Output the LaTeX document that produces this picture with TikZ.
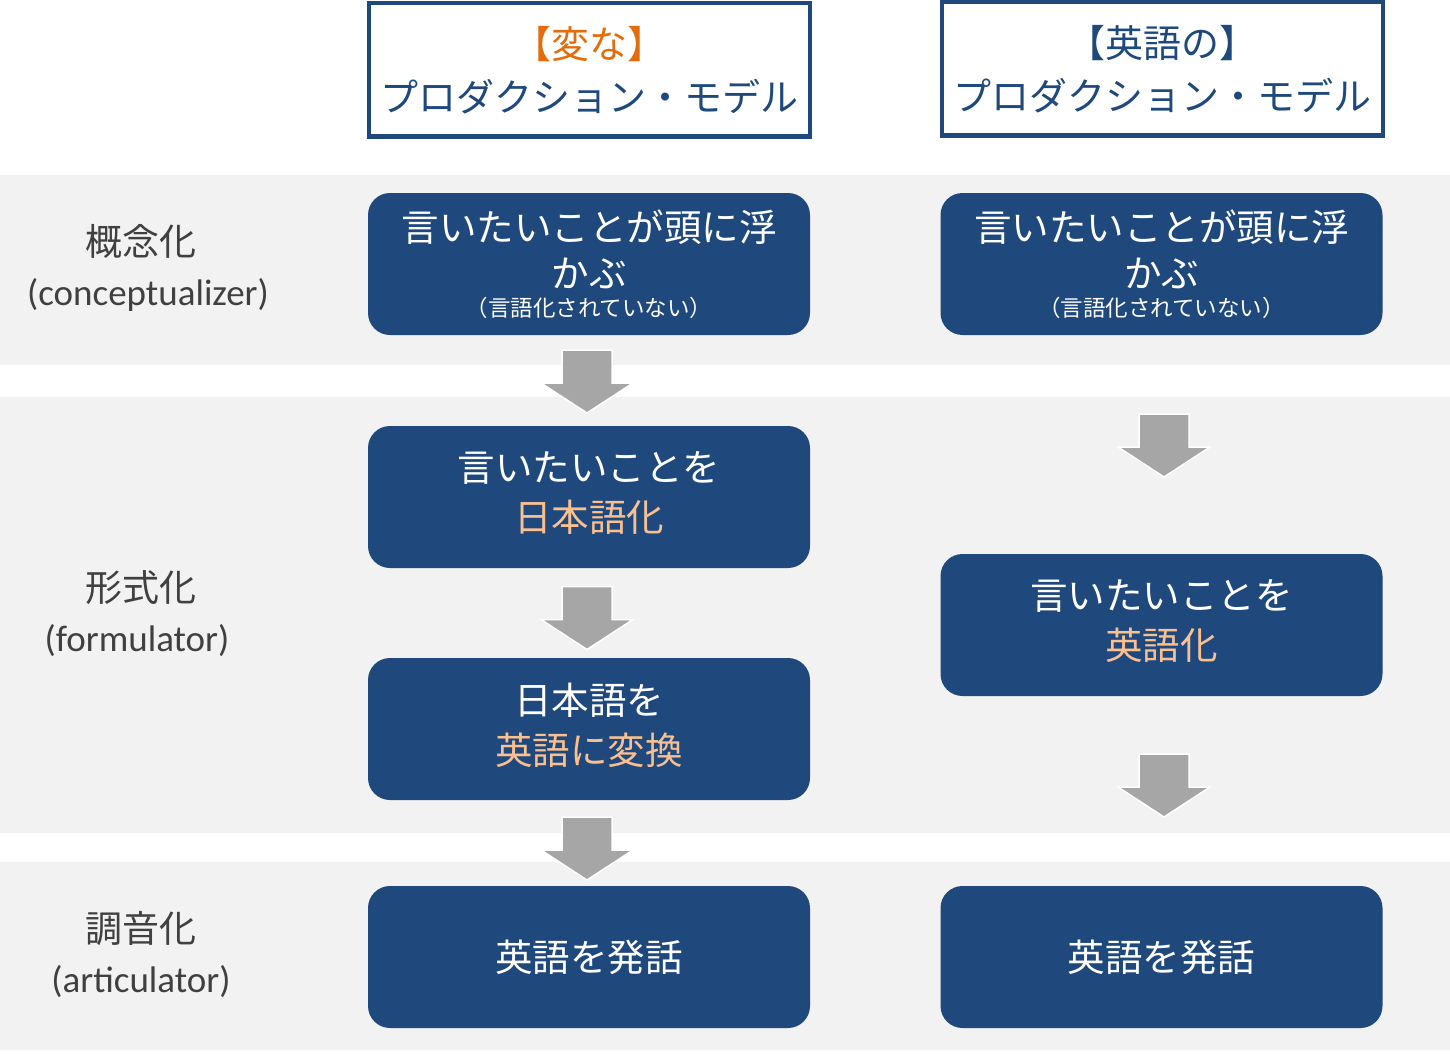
\documentclass[tikz,border=0pt]{standalone}
\usepackage{fontspec}
\newfontfamily\jp{Noto Sans CJK JP}
\newfontfamily\lat{Carlito}
\usetikzlibrary{calc}
\definecolor{navy}{HTML}{1F497D}
\definecolor{bandgray}{HTML}{F2F2F2}
\definecolor{arrowgray}{HTML}{A6A6A6}
\definecolor{hdorange}{HTML}{E46C0A}
\definecolor{lightorange}{HTML}{FAC090}
\definecolor{labelgray}{HTML}{404040}
\newcommand\lift{\rule[-11pt]{0pt}{11pt}}
\begin{document}
\begin{tikzpicture}[x=1pt,y=-1pt,
  band/.style={fill=bandgray,draw=none},
  stepbox/.style={fill=navy,draw=none,rounded corners=22pt,minimum width=442pt,minimum height=142pt,
    text=white,align=center,inner sep=0pt,font=\jp\fontsize{37.5}{50}\selectfont},
  headbox/.style={draw=navy,line width=4pt,fill=white,minimum width=441pt,minimum height=133pt,
    text=navy,align=center,inner sep=0pt,font=\jp\fontsize{38}{53}\selectfont},
  stagelabel/.style={text=labelgray,align=center,inner sep=0pt,font=\lat\fontsize{37}{50}\selectfont},
  downarrow/.pic={\fill[arrowgray,draw=white,line width=1.5pt]
    (-25,-31.5) -- (25,-31.5) -- (25,1.5) -- (46,1.5) -- (0,31.5) -- (-46,1.5) -- (-25,1.5) -- cycle;}
]
\useasboundingbox (0,0) rectangle (1450,1054);
\fill[white] (0,0) rectangle (1450,1054);
% bands
\fill[band] (0,175) rectangle (1450,365);
\fill[band] (0,397) rectangle (1450,833);
\fill[band] (0,862) rectangle (1450,1050);

% headers
\node[headbox] (h1) at (589.5,70) {{\color{hdorange}【変な】}\\プロダクション・モデル};
\node[headbox,yshift=1pt] (h2) at (1162,70) {【英語の】\\プロダクション・モデル};

% stage labels
\node[stagelabel] (s1) at (141,268) {{\jp 概念化}\\\hspace*{14pt}(conceptualizer)};
\node[stagelabel] (s2) at (141,614) {{\jp 形式化}\\(formulator)\hspace*{8pt}};
\node[stagelabel] (s3) at (141,955) {{\jp 調音化}\\(articulator)};

% left column
\node[stepbox] (l1) at (589,264) {\raisebox{1pt}{言いたいことが頭に浮}\\[-5pt]かぶ\\[-21pt]{\fontsize{22.5}{22.5}\selectfont（言語化されていない）}};
\node[stepbox] (l2) at (589,497) {言いたいことを\\{\color{lightorange}日本語化}\lift};
\node[stepbox] (l3) at (589,729) {日本語を\\{\color{lightorange}英語に変換}\lift};
\node[stepbox] (l4) at (589,957) {英語を発話};

% right column
\node[stepbox] (r1) at (1161.5,264) {\raisebox{1pt}{言いたいことが頭に浮}\\[-5pt]かぶ\\[-21pt]{\fontsize{22.5}{22.5}\selectfont（言語化されていない）}};
\node[stepbox] (r2) at (1161.5,625) {言いたいことを\\{\color{lightorange}英語化}\lift};
\node[stepbox] (r3) at (1161.5,957) {英語を発話};

% arrows
\pic at ($(l1.south)!0.5!(l2.north)+(-2,1)$) {downarrow};
\pic at ($(l2.south)!0.5!(l3.north)+(-2,5)$) {downarrow};
\pic at ($(l3.south)!0.5!(l4.north)+(-2,5.5)$) {downarrow};
\pic at ($(r1.south)!0.5!(r2.north)+(2.5,1)$) {downarrow};
\pic at ($(r2.south)!0.5!(r3.north)+(2.5,-5.5)$) {downarrow};
\end{tikzpicture}
\end{document}
